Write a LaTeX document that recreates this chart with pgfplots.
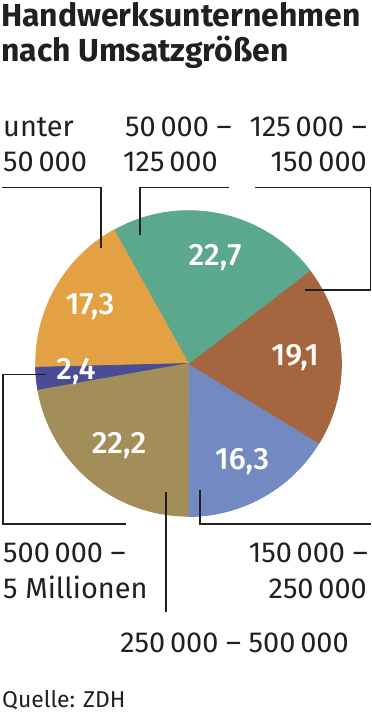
\documentclass[border=0pt]{standalone}
\usepackage{pgfplots}
\pgfplotsset{compat=1.18}
\usepackage{pgfplotstable}
\usepackage{fontspec}
\setmainfont{Fira Sans}
\newfontfamily\medium{Fira Sans Medium}
\definecolor{corange}{HTML}{E3A144}
\definecolor{cgreen}{HTML}{5CA88E}
\definecolor{cbrown}{HTML}{A5663F}
\definecolor{cblue}{HTML}{7389C2}
\definecolor{cpurple}{HTML}{4B4C98}
\definecolor{colive}{HTML}{A38D58}
\definecolor{ctext}{HTML}{231F20}
\pgfplotstableread{
value color
16.3 cblue
19.1 cbrown
22.7 cgreen
17.3 corange
2.4 cpurple
22.2 colive
}\piedata
\newcommand\lbl{\fontsize{29}{35}\selectfont}
\newcommand\val{\medium\fontsize{31}{36}\selectfont}
\begin{document}
\begin{tikzpicture}
\useasboundingbox (0,0) rectangle (372bp,718bp);
\begin{axis}[at={(35.5bp,201.5bp)}, anchor=south west, scale only axis,
  width=306bp, height=306bp, xmin=-1, xmax=1, ymin=-1, ymax=1,
  hide axis, clip=false]
\def\pieA{270}
\pgfplotsforeachungrouped \i in {0,...,5}{
  \pgfplotstablegetelem{\i}{value}\of\piedata
  \pgfmathsetmacro\pieV{\pgfplotsretval}
  \pgfplotstablegetelem{\i}{color}\of\piedata
  \let\pieC\pgfplotsretval
  \pgfmathsetmacro\pieB{\pieA+3.6*\pieV}
  \edef\temp{\noexpand\filldraw[fill=\pieC, draw=\pieC, line width=0.8bp, line join=round] (axis cs:0,0) -- (axis cs:{cos(\pieA)},{sin(\pieA)}) arc[start angle=\pieA, end angle=\pieB, radius=152.6bp] -- cycle;}
  \temp
  \let\pieA\pieB
}
\end{axis}
\begin{scope}[x=1bp,y=1bp]
% title
\node[anchor=base west, inner sep=0, text=ctext, font=\fontsize{32}{38}\selectfont\bfseries] at (1,718-27) {Handwerksunternehmen};
\node[anchor=base west, inner sep=0, text=ctext, font=\fontsize{32}{38}\selectfont\bfseries] at (1,718-62) {nach Umsatzgrößen};
% value labels
\begin{scope}[every node/.style={text=white, font=\val, inner sep=0}]
\node at (90,718-307) {17,3};
\node at (215,718-258) {22,7};
\node at (295,718-358) {19,1};
\node at (242,718-462) {16,3};
\node at (119,718-446) {22,2};
\node at (76,718-372) {2,4};
\end{scope}
% category labels
\begin{scope}[every node/.style={text=ctext, font=\lbl, inner sep=0}]
\node[anchor=base west] at (3,718-137) {unter};
\node[anchor=base west] at (3,718-172) {50\,000};
\node[anchor=base west] at (125,718-137) {50\,000 –};
\node[anchor=base west] at (123,718-172) {125\,000};
\node[anchor=base east] at (367,718-137) {125\,000 –};
\node[anchor=base east] at (367,718-172) {150\,000};
\node[anchor=base west] at (3,718-562) {500\,000 –};
\node[anchor=base west] at (3,718-598) {5 Millionen};
\node[anchor=base east] at (368,718-562) {150\,000 –};
\node[anchor=base east] at (367,718-598) {250\,000};
\node[anchor=base] at (234.5,718-652) {250\,000 – 500\,000};
\node[anchor=base west, font=\fontsize{23}{28}\selectfont] at (2,718-707) {Quelle: ZDH};
\end{scope}
% leader lines
\begin{scope}[draw=ctext, line width=1.6bp]
\draw (2,718-187.5) -- (101,718-187.5) -- (101,718-248);
\draw (229,718-187.5) -- (140,718-187.5) -- (140,718-235);
\draw (255,718-187.5) -- (370.5,718-187.5) -- (370.5,718-290) -- (305,718-290);
\draw (46,718-374.5) -- (3,718-374.5) -- (3,718-524) -- (126,718-524);
\draw (166,718-492) -- (166,718-612);
\draw (200,718-490) -- (200,718-524) -- (371,718-524);
\end{scope}
\end{scope}
\end{tikzpicture}
\end{document}
